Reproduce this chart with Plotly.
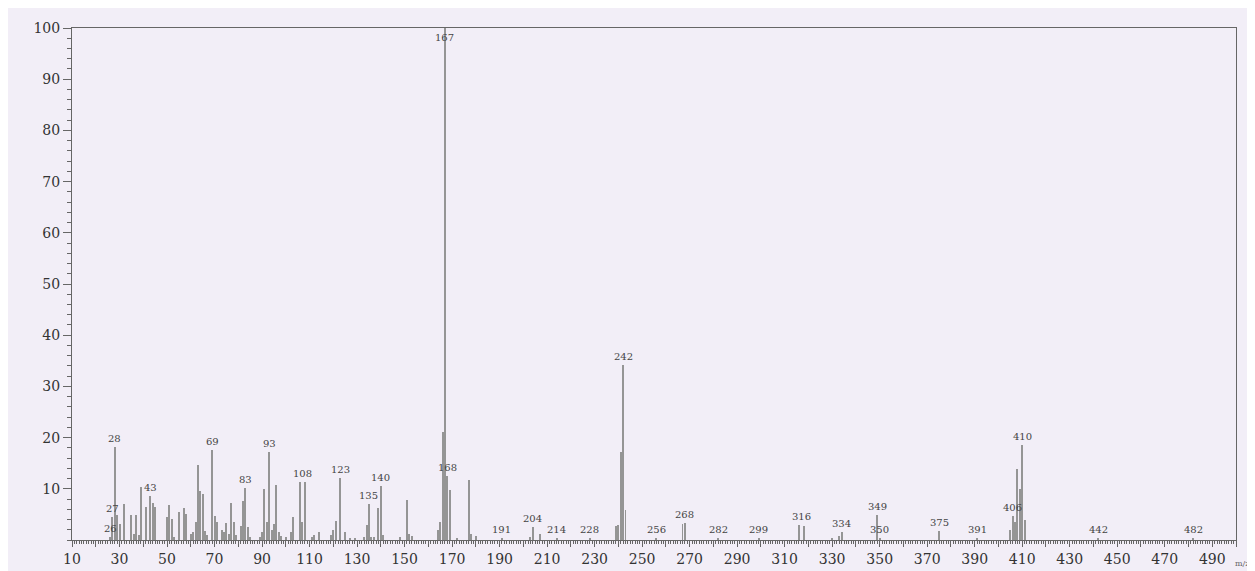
import plotly.graph_objects as go

# m/z values and relative intensities (%)
mz = [26, 27, 28, 29, 30, 32, 35, 36, 37, 38, 39, 41, 43, 44, 45, 50, 51, 52, 53,
      55, 57, 58, 60, 61, 62, 63, 64, 65, 66, 67, 69, 70, 71, 73, 74, 75, 76, 77,
      78, 79, 81, 82, 83, 84, 85, 89, 90, 91, 92, 93, 94, 95, 96, 97, 98, 100,
      102, 103, 106, 107, 108, 111, 112, 114, 119, 120, 121, 123, 125, 127, 129,
      133, 134, 135, 136, 137, 139, 140, 141, 148, 151, 152, 153, 164, 165, 166,
      167, 168, 169, 172, 177, 178, 180, 191, 203, 204, 207, 214, 228, 239, 240,
      241, 242, 243, 256, 267, 268, 282, 299, 316, 318, 330, 333, 334, 349, 350,
      375, 391, 405, 406, 407, 408, 409, 410, 411, 442, 482]
intensity = [0.6, 4.5, 18.1, 4.8, 3.2, 7.1, 4.9, 1.2, 4.9, 1.0, 10.4, 6.5, 8.5, 7.3,
             6.5, 4.4, 6.9, 4.2, 0.6, 5.5, 6.2, 5.0, 1.2, 1.5, 3.5, 14.7, 9.5, 9.0,
             1.7, 1.0, 17.6, 4.6, 3.6, 1.9, 1.6, 3.4, 1.2, 7.3, 3.5, 1.0, 2.8, 7.6,
             10.2, 2.5, 0.6, 0.6, 1.5, 9.9, 3.5, 17.2, 1.9, 3.2, 10.8, 1.5, 0.8, 0.6,
             1.6, 4.4, 11.3, 3.5, 11.3, 0.6, 1.0, 1.6, 1.0, 2.0, 3.7, 12.1, 1.6, 0.4,
             0.3, 0.5, 2.9, 7.0, 0.5, 0.5, 6.2, 10.5, 1.0, 0.6, 7.9, 1.1, 0.8, 1.9,
             3.5, 21.1, 100.0, 12.5, 9.7, 0.3, 11.7, 1.1, 0.7, 0.3, 0.6, 2.6, 1.1,
             0.3, 0.3, 2.8, 3.0, 17.2, 34.2, 5.8, 0.4, 3.2, 3.4, 0.3, 0.3, 2.9, 2.7,
             0.4, 0.8, 1.6, 4.9, 0.4, 1.7, 0.3, 1.9, 4.7, 3.5, 13.9, 10.0, 18.5, 4.0,
             0.3, 0.3]

# peak labels: (label text, x position, y position of the label foot)
label_text = ["26", "27", "28", "43", "69", "83", "93", "108", "123", "135", "140",
              "168", "191", "204", "214", "228", "242", "256", "268", "282", "299",
              "316", "334", "349", "350", "375", "391", "406", "410", "442", "482"]
label_x = [26, 27, 28, 43, 69, 83, 93, 107, 123, 135, 140, 168, 191, 204, 214, 228,
           242, 256, 268, 282, 299, 317, 334, 349, 350, 375, 391, 406, 410, 442, 482]
label_y = [0.6, 4.5, 18.1, 8.5, 17.6, 10.2, 17.2, 11.3, 12.1, 7.0, 10.5, 12.5, 0.3,
           2.6, 0.3, 0.3, 34.2, 0.4, 3.4, 0.3, 0.3, 2.9, 1.6, 4.9, 0.4, 1.7, 0.3,
           4.7, 18.5, 0.3, 0.3]

x_tick_vals = list(range(10, 501, 10))
x_tick_text = [str(v) if (v // 10) % 2 == 1 else "" for v in x_tick_vals]
y_tick_vals = list(range(10, 101, 10))

BG = "#f2eef7"
AX = "#666666"
FONT = "DejaVu Serif"

fig = go.Figure()
fig.add_trace(go.Bar(x=mz, y=intensity, width=0.42,
                     marker=dict(color="#959595", line=dict(width=0)),
                     showlegend=False, hoverinfo="x+y"))

for t, x, y in zip(label_text, label_x, label_y):
    fig.add_annotation(x=x, y=y, text=t, showarrow=False, yanchor="bottom",
                       xanchor="center", yshift=1,
                       font=dict(family=FONT, size=10, color="#444444"))

# base peak label, drawn over the line near the top
fig.add_annotation(x=167, y=100, text="167", showarrow=False, yanchor="top",
                   xanchor="center", yshift=-2,
                   font=dict(family=FONT, size=10, color="#444444"))

fig.add_annotation(x=1.0, y=-0.046, xref="paper", yref="paper", text="m/z",
                   showarrow=False, xanchor="left", yanchor="middle", xshift=-3,
                   font=dict(family=FONT, size=8, color="#666666"))

fig.update_layout(
    width=1255, height=571,
    margin=dict(l=64, r=27, t=19, b=30),
    paper_bgcolor=BG, plot_bgcolor=BG,
    bargap=0,
    font=dict(family=FONT, size=14, color="#333333"),
)
fig.update_xaxes(range=[10, 500], tickmode="array", tickvals=x_tick_vals,
                 ticktext=x_tick_text, ticks="outside", ticklen=6, tickcolor=AX,
                 showline=True, linecolor=AX, linewidth=1, mirror=True,
                 showgrid=False, zeroline=False,
                 minor=dict(dtick=1, ticks="outside", ticklen=3, tickcolor=AX,
                            showgrid=False),
                 tickfont=dict(family=FONT, size=14, color="#333333"))
fig.update_yaxes(range=[0, 100], tickmode="array", tickvals=y_tick_vals,
                 ticks="outside", ticklen=8, tickcolor=AX,
                 showline=True, linecolor=AX, linewidth=1, mirror=True,
                 showgrid=False, zeroline=False,
                 minor=dict(dtick=2, ticks="outside", ticklen=4, tickcolor=AX,
                            showgrid=False),
                 tickfont=dict(family=FONT, size=14, color="#333333"))

fig.write_html("out.html")
